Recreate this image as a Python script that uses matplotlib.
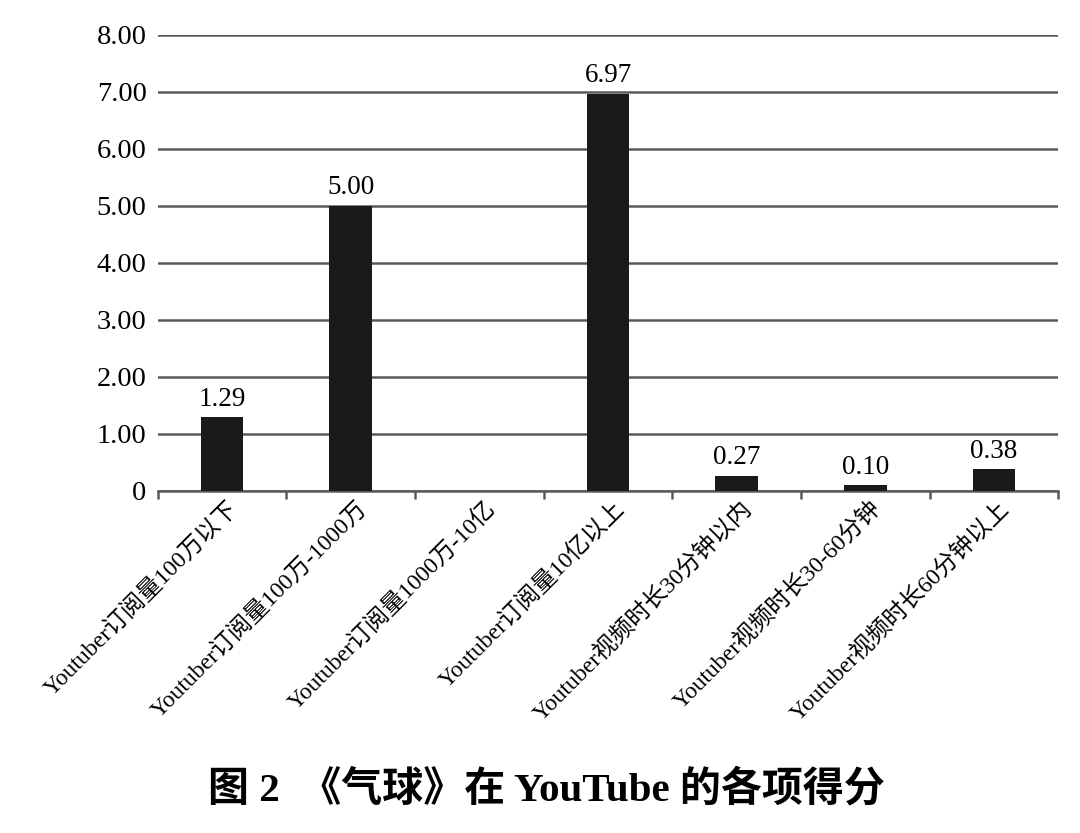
import matplotlib
matplotlib.use("Agg")
import matplotlib.pyplot as plt
import matplotlib.transforms as mtransforms
import numpy as np

categories = [
    "Youtuber订阅量100万以下",
    "Youtuber订阅量100万-1000万",
    "Youtuber订阅量1000万-10亿",
    "Youtuber订阅量10亿以上",
    "Youtuber视频时长30分钟以内",
    "Youtuber视频时长30-60分钟",
    "Youtuber视频时长60分钟以上",
]
values = [1.29, 5.00, 0.0, 6.97, 0.27, 0.10, 0.38]
value_labels = ["1.29", "5.00", "", "6.97", "0.27", "0.10", "0.38"]
yticks = [0, 1, 2, 3, 4, 5, 6, 7, 8]
ytick_labels = ["0", "1.00", "2.00", "3.00", "4.00", "5.00", "6.00", "7.00", "8.00"]
title = "图 2  《气球》在 YouTube 的各项得分"

FAM = ["Liberation Serif", "Noto Sans CJK SC"]
plt.rcParams["font.family"] = FAM

fig = plt.figure(figsize=(10.8, 8.33), dpi=100)
ax = fig.add_axes([0.146, 0.4106, 0.834, 0.5476])

x = np.arange(len(categories))
ax.bar(x, values, width=0.33, color="#1a1a1a", zorder=3)

ax.set_xlim(-0.5, len(categories) - 0.5)
ax.set_ylim(0, 8)
ax.set_yticks(yticks)
ax.set_yticklabels(ytick_labels, fontsize=20.5)
ax.yaxis.grid(True, color="#5a5a5a", linewidth=1.8, zorder=0)
ax.set_axisbelow(True)
ax.tick_params(axis="y", length=0, pad=8)

for s in ["left", "right", "top"]:
    ax.spines[s].set_visible(False)
ax.spines["bottom"].set_color("#5a5a5a")
ax.spines["bottom"].set_linewidth(1.8)

ax.set_xticks(x)
ax.set_xticklabels(categories, rotation=45, ha="right", va="top",
                   rotation_mode="anchor", fontsize=17)
ax.tick_params(axis="x", length=0, pad=5)
ax.set_xticks(np.arange(-0.5, len(categories)), minor=True)
ax.tick_params(axis="x", which="minor", length=6, width=1.8, color="#5a5a5a")
shift = mtransforms.ScaledTranslation(5 / 100, 0, fig.dpi_scale_trans)
for lbl in ax.get_xticklabels():
    lbl.set_transform(lbl.get_transform() + shift)

for xi, v, lab in zip(x, values, value_labels):
    if lab:
        ax.annotate(lab, (xi, v), xytext=(0, 4), textcoords="offset points",
                    ha="center", va="bottom", fontsize=19.5)

fig.text(0.506, 0.052, title, ha="center", va="center", fontsize=29.5,
         fontweight="bold", family=FAM)

fig.savefig("out.png", dpi=100, facecolor="white")
